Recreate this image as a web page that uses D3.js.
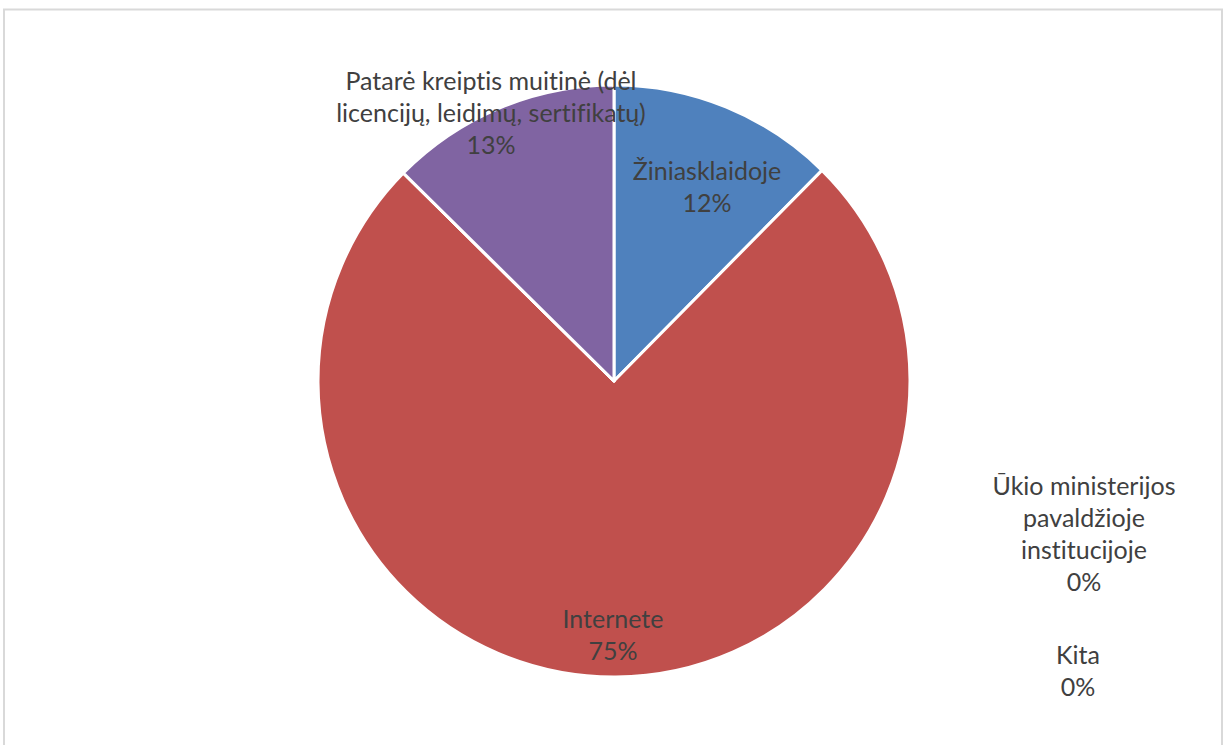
<!DOCTYPE html>
<html><head><meta charset="utf-8">
<script src="https://cdn.jsdelivr.net/npm/d3@7"></script>
<style>html,body{margin:0;padding:0;background:#fff;}svg{display:block;}
text{font-variant-ligatures:none;font-feature-settings:"liga" 0, "clig" 0;}</style>
</head><body>
<svg id="chart" width="1225" height="745"></svg>
<script>
const categories = ["Žiniasklaidoje", "Internete", "Ūkio ministerijos pavaldžioje institucijoje", "Kita", "Patarė kreiptis muitinė (dėl licencijų, leidimų, sertifikatų)"];
const values = [12.4, 75.0, 0, 0, 12.6];
const percentLabels = ["12%", "75%", "0%", "0%", "13%"];
const colors = ["#4F81BD", "#C0504D", "#9BBB59", "#4BACC6", "#8064A2"];
// label text lines (as shown in the chart)
const labelLines = [
  ["Žiniasklaidoje"],
  ["Internete"],
  ["Ūkio ministerijos", "pavaldžioje", "institucijoje"],
  ["Kita"],
  ["Patarė kreiptis muitinė (dėl", "licencijų, leidimų, sertifikatų)"]
];
// label centre positions (layout)
const labelPos = [[707, 187], [613, 635], [1084, 534], [1078, 671], [491, 113]];

const svg = d3.select("#chart");
svg.append("rect").attr("x", 4).attr("y", 9.5).attr("width", 1218).attr("height", 745)
  .attr("fill", "#fff").attr("stroke", "#d9d9d9").attr("stroke-width", 2);

const cx = 614, cy = 381, R = 296;
const pie = d3.pie().sort(null).value(d => d)(values);
const arc = d3.arc().innerRadius(0).outerRadius(R);
const g = svg.append("g").attr("transform", `translate(${cx},${cy})`);
g.selectAll("path").data(pie).join("path")
  .attr("d", arc)
  .attr("fill", (d, i) => colors[i])
  .attr("stroke", "#fff").attr("stroke-width", 3).attr("stroke-linejoin", "round");

const lh = 32;
categories.forEach((c, i) => {
  const lines = labelLines[i].concat([percentLabels[i]]);
  const [x, y] = labelPos[i];
  const t = svg.append("text").attr("text-anchor", "middle")
    .attr("font-family", "Lato, sans-serif").attr("font-size", 25)
    .attr("fill", "#404040");
  const y0 = y - (lines.length - 1) * lh / 2;
  lines.forEach((l, k) => {
    t.append("tspan").attr("x", x).attr("y", y0 + k * lh).attr("dy", "0.35em").text(l);
  });
});
</script>
</body></html>
